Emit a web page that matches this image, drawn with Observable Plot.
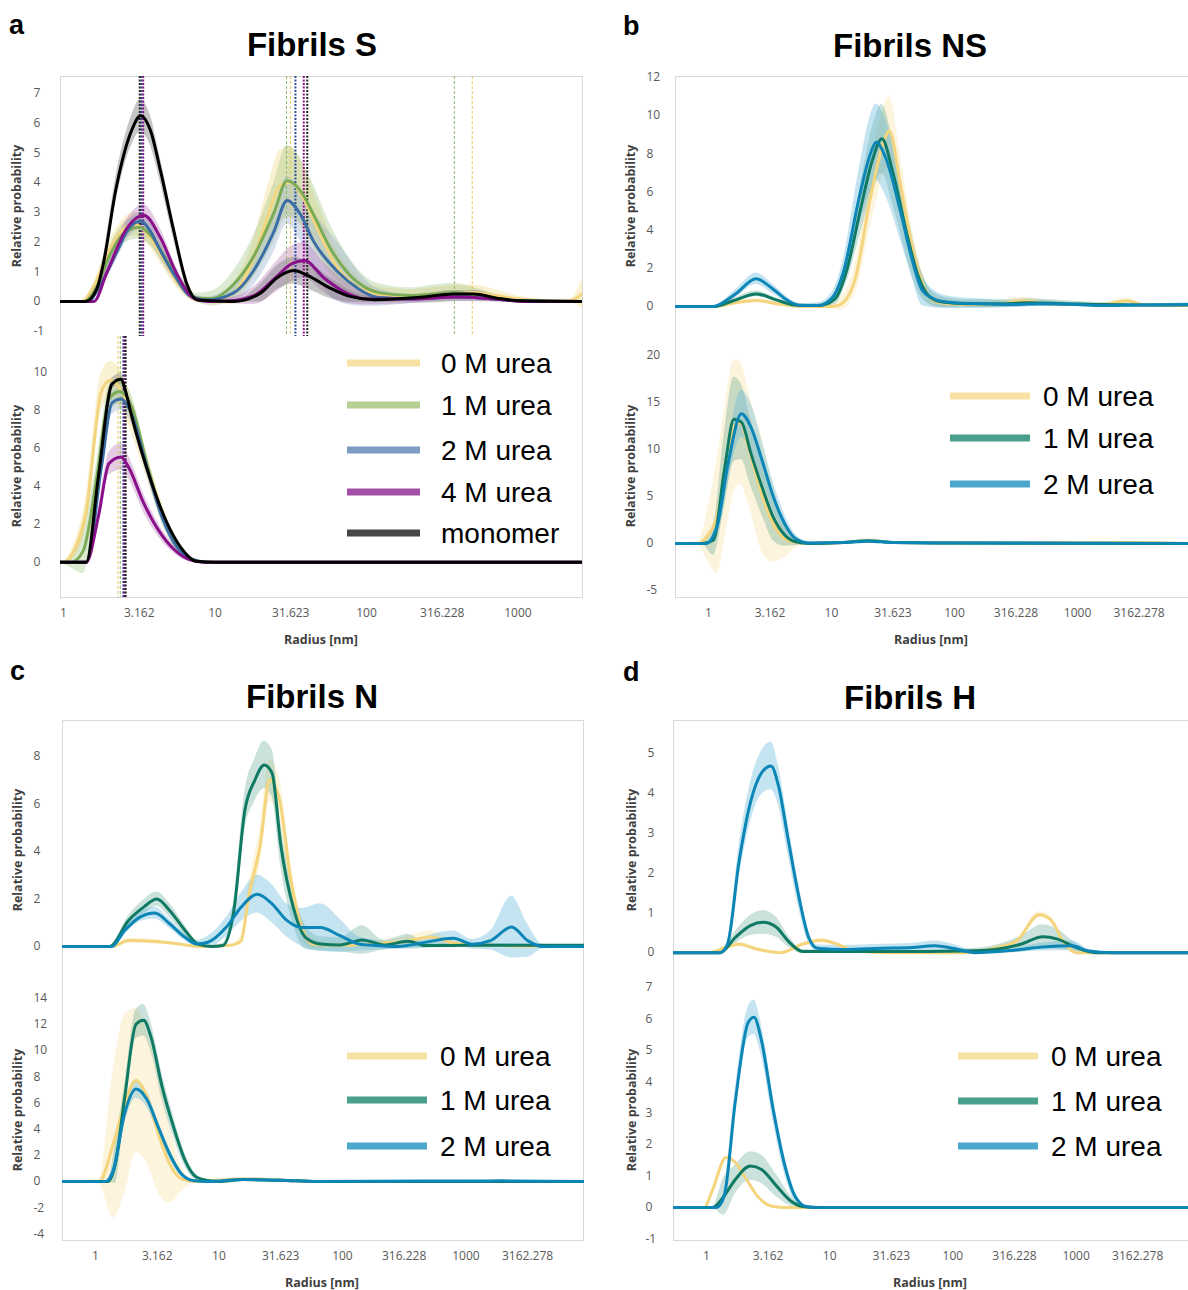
<!DOCTYPE html>
<html>
<head>
<meta charset="utf-8">
<script src="https://cdn.jsdelivr.net/npm/d3@7"></script>
<script src="https://cdn.jsdelivr.net/npm/@observablehq/plot@0.6"></script>
<style>
  body { margin: 0; background: #fff; }
  #root { position: relative; width: 1188px; height: 1290px; overflow: hidden; background: #fff; }
  #root svg { overflow: visible; }
  .frame { position: absolute; border: 1px solid #d9d9d9; box-sizing: border-box; }
</style>
</head>
<body>
<div id="root"></div>
<script>
// ---------------- DATA ----------------
// Each point: [log10(radius / nm), mean relative probability, spread (band half-width)]
const xTicksA = [1, 3.162, 10, 31.623, 100, 316.228, 1000];
const xTicksBCD = [1, 3.162, 10, 31.623, 100, 316.228, 1000, 3162.278];

// Panel a — Fibrils S, top
const aTop0M = [[-0.02,0,0],[0.12,0,0.02],[0.2,0.5,0.15],[0.3,1.7,0.3],[0.4,2.45,0.35],[0.47,2.6,0.4],[0.55,2.3,0.35],[0.65,1.5,0.3],[0.75,0.65,0.2],[0.85,0.12,0.1],[0.95,0.03,0.1],[1.1,0.2,0.3],[1.25,1.4,0.6],[1.35,2.9,1.0],[1.43,3.9,1.2],[1.5,4.0,1.2],[1.58,3.5,1.1],[1.68,2.4,0.9],[1.8,1.2,0.6],[1.95,0.45,0.35],[2.1,0.22,0.25],[2.3,0.2,0.2],[2.5,0.25,0.25],[2.7,0.3,0.25],[2.85,0.2,0.2],[3.0,0.08,0.1],[3.2,0.02,0.05],[3.34,0.02,0.05],[3.43,0.28,0.55]];
const aTop1M = [[-0.02,0,0],[0.14,0,0.05],[0.22,0.5,0.2],[0.3,1.5,0.3],[0.4,2.3,0.35],[0.5,2.5,0.4],[0.58,2.2,0.35],[0.68,1.4,0.3],[0.78,0.6,0.2],[0.88,0.12,0.15],[0.98,0.1,0.25],[1.12,0.56,0.45],[1.25,1.47,0.7],[1.39,3.0,1.0],[1.476,4.06,1.2],[1.564,3.72,1.1],[1.65,2.93,1.0],[1.76,1.8,0.8],[1.87,1.0,0.6],[2.0,0.45,0.35],[2.1,0.28,0.3],[2.3,0.2,0.25],[2.45,0.25,0.3],[2.58,0.3,0.3],[2.75,0.2,0.2],[2.9,0.08,0.1],[3.05,0,0.03],[3.43,0,0]];
const aTop2M = [[-0.02,0,0],[0.16,0,0.03],[0.244,0.56,0.15],[0.354,1.69,0.25],[0.43,2.45,0.3],[0.508,2.7,0.3],[0.58,2.3,0.3],[0.62,1.9,0.3],[0.73,0.9,0.2],[0.84,0.17,0.1],[0.95,0.05,0.1],[1.12,0.28,0.3],[1.25,1.0,0.5],[1.39,2.37,0.7],[1.476,3.4,0.8],[1.564,2.93,0.9],[1.65,2.03,1.0],[1.81,1.0,1.0],[1.94,0.45,0.6],[2.07,0.14,0.3],[2.3,0.08,0.15],[2.6,0.15,0.15],[2.8,0.1,0.1],[3.0,0.02,0.05],[3.43,0,0]];
const aTop4M = [[-0.02,0,0],[0.2,0,0.03],[0.288,1.0,0.2],[0.42,2.48,0.3],[0.53,2.9,0.35],[0.64,2.14,0.3],[0.75,0.9,0.2],[0.86,0.11,0.1],[0.95,0,0.05],[1.1,0.02,0.1],[1.26,0.2,0.3],[1.4,0.8,0.5],[1.5,1.25,0.6],[1.59,1.38,0.6],[1.72,0.79,0.5],[1.87,0.28,0.35],[2.0,0.08,0.2],[2.3,0.08,0.15],[2.6,0.15,0.15],[2.85,0.08,0.1],[3.05,0,0.03],[3.43,0,0]];
const aTopMono = [[-0.02,0,0],[0.145,0,0.02],[0.222,0.45,0.15],[0.266,1.35,0.25],[0.343,3.7,0.4],[0.453,5.8,0.5],[0.508,6.25,0.55],[0.574,5.75,0.5],[0.64,4.4,0.4],[0.728,2.37,0.3],[0.816,0.56,0.15],[0.882,0.05,0.05],[1.12,0,0.03],[1.3,0.28,0.3],[1.41,0.8,0.4],[1.52,1.04,0.45],[1.61,0.88,0.45],[1.76,0.45,0.35],[1.89,0.17,0.2],[2.05,0.06,0.1],[2.36,0.14,0.1],[2.58,0.25,0.12],[2.71,0.25,0.12],[2.86,0.11,0.08],[3.02,0.02,0.03],[3.43,0,0]];
// Panel a — bottom
const aBot0M = [[-0.02,0,0],[0.0,0,0.05],[0.055,0.4,0.3],[0.15,2.7,0.8],[0.25,9.0,1.0],[0.31,9.6,1.0],[0.4,8.75,1.0],[0.5,6.4,0.8],[0.6,3.8,0.6],[0.7,1.65,0.4],[0.8,0.4,0.2],[0.9,0.05,0.05],[1.0,0,0],[3.43,0,0]];
const aBot1M = [[-0.02,0,0],[0.05,0,0.3],[0.13,0.6,1.2],[0.22,4.5,0.8],[0.3,8.6,0.7],[0.37,9.0,0.7],[0.45,8.2,0.6],[0.55,5.2,0.5],[0.65,2.5,0.4],[0.75,0.8,0.2],[0.85,0.15,0.1],[0.95,0,0],[3.43,0,0]];
const aBot2M = [[-0.02,0,0],[0.15,0,0.1],[0.25,5.0,0.5],[0.32,8.4,0.6],[0.38,8.6,0.6],[0.45,7.8,0.5],[0.55,5.0,0.4],[0.65,2.4,0.3],[0.75,0.8,0.2],[0.85,0.15,0.1],[0.95,0,0],[3.43,0,0]];
const aBot4M = [[-0.02,0,0],[0.15,0,0.05],[0.23,2.4,0.4],[0.3,5.2,0.6],[0.38,5.55,0.7],[0.43,5.0,0.6],[0.53,3.1,0.5],[0.63,1.65,0.35],[0.73,0.67,0.2],[0.83,0.14,0.1],[0.93,0,0],[3.43,0,0]];
const aBotMono = [[-0.02,0,0],[0.15,0,0.02],[0.23,4.5,0.3],[0.32,9.4,0.3],[0.38,9.65,0.3],[0.41,9.0,0.3],[0.45,7.7,0.3],[0.577,4.3,0.25],[0.676,2.2,0.2],[0.776,0.76,0.1],[0.875,0.05,0.05],[1.0,0,0],[3.43,0,0]];
// Peak positions (log10 nm) marked by dashed lines in panel a
const aTopPeaks = [["1M",1.472],["0M",1.498],["2M",1.531],["4M",1.586],["mono",1.609],["1M",2.58],["0M",2.698],["2M",0.515],["4M",0.526],["mono",0.503]];
const aBotPeaks = [["0M",0.36],["1M",0.375],["2M",0.395],["4M",0.403],["mono",0.41]];

// Panel b — Fibrils NS
const bTop0M = [[-0.27,0,0],[0.05,0,0.02],[0.22,0.2,0.1],[0.39,0.31,0.1],[0.55,0.15,0.1],[0.75,0,0.05],[1.0,0,0.1],[1.07,0.1,0.3],[1.195,1.5,0.8],[1.317,5.7,1.5],[1.44,8.9,1.8],[1.47,9.2,1.8],[1.56,6.4,1.5],[1.65,3.3,1.0],[1.74,1.2,0.6],[1.83,0.3,0.3],[1.95,0.15,0.2],[2.2,0.1,0.15],[2.4,0.15,0.2],[2.55,0.3,0.2],[2.75,0.15,0.15],[3.0,0.1,0.1],[3.2,0.1,0.1],[3.4,0.3,0.15],[3.55,0.08,0.05],[3.9,0.05,0.02]];
const bTop1M = [[-0.27,0,0],[0.05,0,0.02],[0.2,0.3,0.1],[0.39,0.66,0.15],[0.55,0.35,0.1],[0.7,0.08,0.05],[0.9,0.05,0.1],[1.03,0.4,0.3],[1.12,1.8,0.6],[1.24,5.2,1.3],[1.33,7.6,1.7],[1.41,8.78,1.8],[1.5,7.0,1.7],[1.62,3.6,1.2],[1.71,1.5,0.8],[1.8,0.5,0.4],[1.9,0.23,0.3],[2.1,0.15,0.2],[2.4,0.15,0.2],[2.6,0.2,0.2],[2.9,0.15,0.15],[3.2,0.1,0.1],[3.6,0.08,0.05],[3.9,0.08,0.02]];
const bTop2M = [[-0.27,0,0],[0.037,0,0.02],[0.22,0.66,0.2],[0.387,1.45,0.3],[0.524,0.92,0.25],[0.646,0.31,0.15],[0.75,0.05,0.1],[0.89,0.05,0.15],[1.01,0.49,0.3],[1.1,1.88,0.7],[1.226,5.72,1.5],[1.317,8.0,2.0],[1.363,8.6,2.0],[1.44,7.8,2.0],[1.56,5.0,1.5],[1.65,2.6,1.0],[1.74,0.84,0.8],[1.87,0.31,0.4],[2.0,0.2,0.3],[2.2,0.15,0.25],[2.5,0.1,0.15],[2.7,0.15,0.15],[3.0,0.1,0.1],[3.2,0.05,0.1],[3.5,0.08,0.05],[3.9,0.1,0.1]];
const bBot0M = [[-0.27,0,0],[-0.08,0,0.3],[0.0,1.0,3.0],[0.07,2.8,6.0],[0.14,8.0,7.0],[0.21,12.5,7.0],[0.26,12.8,6.5],[0.33,10.0,6.0],[0.44,5.0,6.0],[0.53,2.0,4.0],[0.62,0.5,2.0],[0.72,0.1,0.5],[0.85,0,0.1],[1.1,0.1,0.1],[1.3,0.3,0.15],[1.5,0.1,0.1],[2.0,0.05,0.05],[3.4,0.1,0.1],[3.9,0,0]];
const bBot1M = [[-0.27,0,0],[-0.05,0,0.1],[0.04,0.35,1.6],[0.13,7.8,4.0],[0.207,13.2,4.5],[0.268,12.9,4.0],[0.345,9.6,3.5],[0.436,6.0,3.0],[0.527,2.8,2.5],[0.62,0.9,1.2],[0.71,0.18,0.4],[0.82,0,0.1],[1.1,0.1,0.1],[1.3,0.3,0.15],[1.5,0.1,0.1],[2.0,0.05,0.05],[3.9,0,0]];
const bBot2M = [[-0.27,0,0],[-0.02,0,0.05],[0.07,1.8,1.0],[0.16,8.5,2.0],[0.268,13.8,2.5],[0.345,12.4,2.5],[0.436,8.85,2.0],[0.527,5.0,1.5],[0.62,2.1,1.0],[0.71,0.5,0.4],[0.82,0.05,0.1],[1.1,0.1,0.1],[1.3,0.25,0.1],[1.5,0.1,0.1],[2.0,0.05,0.05],[2.55,0.05,0.05],[3.9,0,0]];

// Panel c — Fibrils N
const cTop0M = [[-0.27,0,0],[0.13,0,0.02],[0.27,0.25,0.1],[0.45,0.22,0.1],[0.69,0.1,0.05],[0.85,0,0.02],[1.09,0.05,0.05],[1.18,0.25,0.2],[1.24,2.1,0.5],[1.335,4.3,0.8],[1.41,7.0,0.9],[1.49,6.2,0.9],[1.58,2.9,0.7],[1.67,0.8,0.4],[1.76,0.11,0.2],[1.95,0.05,0.1],[2.2,0.1,0.1],[2.5,0.2,0.2],[2.71,0.4,0.25],[2.9,0.15,0.1],[3.2,0.05,0.05],[3.96,0,0]];
const cTop1M = [[-0.27,0,0],[0.115,0,0.02],[0.267,1.1,0.2],[0.39,1.66,0.3],[0.496,2.0,0.3],[0.6,1.52,0.3],[0.725,0.68,0.2],[0.83,0.1,0.1],[0.94,0,0.05],[1.03,0.04,0.1],[1.12,1.5,0.4],[1.21,5.75,0.8],[1.29,7.0,0.9],[1.366,7.65,1.0],[1.43,7.3,1.0],[1.5,4.3,0.9],[1.61,1.5,0.7],[1.7,0.39,0.5],[1.82,0.11,0.3],[1.98,0.07,0.3],[2.16,0.28,0.6],[2.34,0.07,0.2],[2.53,0.22,0.3],[2.68,0.04,0.1],[3.0,0.05,0.1],[3.5,0.05,0.05],[3.96,0.05,0]];
const cTop2M = [[-0.27,0,0],[0.13,0,0.02],[0.237,0.68,0.15],[0.36,1.24,0.2],[0.48,1.41,0.25],[0.6,0.96,0.2],[0.725,0.39,0.15],[0.82,0.11,0.15],[0.91,0.18,0.25],[1.06,0.82,0.4],[1.18,1.66,0.6],[1.31,2.2,0.8],[1.43,1.8,0.8],[1.55,1.1,0.7],[1.67,0.8,0.8],[1.82,0.8,1.0],[1.98,0.46,0.7],[2.13,0.11,0.3],[2.28,0.04,0.2],[2.45,0,0.1],[2.59,0.1,0.2],[2.9,0.35,0.3],[3.05,0.1,0.2],[3.2,0.25,0.4],[3.37,0.82,1.3],[3.5,0.25,0.7],[3.62,0,0.1],[3.96,0,0]];
const cBot0M = [[-0.27,0,0],[0.03,0,0.2],[0.144,2.9,5.7],[0.236,5.9,6.8],[0.328,7.7,5.5],[0.42,6.4,5.0],[0.51,3.6,4.5],[0.6,1.35,3.0],[0.696,0.2,1.0],[0.8,0,0.1],[1.2,0.2,0.1],[1.5,0.1,0.1],[1.8,0,0],[3.96,0,0]];
const cBot1M = [[-0.27,0,0],[0.1,0,0.05],[0.16,1.35,1.5],[0.236,6.4,1.0],[0.328,12.0,1.1],[0.39,12.3,1.2],[0.45,11.0,1.1],[0.54,7.2,1.0],[0.634,4.1,0.8],[0.726,1.6,0.5],[0.818,0.33,0.2],[0.91,0.08,0.05],[1.0,0,0],[1.2,0.15,0.1],[1.5,0.1,0.1],[1.8,0,0],[3.96,0,0]];
const cBot2M = [[-0.27,0,0],[0.08,0,0.05],[0.144,0.84,0.5],[0.236,5.2,0.8],[0.328,7.06,0.7],[0.42,6.2,0.6],[0.51,4.1,0.5],[0.6,2.1,0.4],[0.696,0.58,0.2],[0.79,0.08,0.05],[0.9,0,0],[1.2,0.15,0.1],[1.5,0.1,0.1],[1.8,0,0],[3.3,0.05,0.05],[3.96,0,0]];

// Panel d — Fibrils H
const dTop0M = [[-0.27,0,0],[0.02,0,0],[0.14,0.11,0.05],[0.265,0.21,0.05],[0.42,0.08,0.05],[0.6,0,0.02],[0.78,0.21,0.05],[0.935,0.31,0.05],[1.06,0.21,0.05],[1.21,0.04,0.02],[1.5,0,0],[2.1,0,0],[2.34,0.11,0.05],[2.52,0.3,0.05],[2.7,0.95,0.08],[2.79,0.84,0.08],[2.91,0.21,0.05],[3.0,0,0],[3.92,0,0]];
const dTop1M = [[-0.27,0,0],[0.11,0,0.02],[0.234,0.38,0.15],[0.356,0.68,0.25],[0.46,0.76,0.3],[0.57,0.63,0.25],[0.66,0.3,0.15],[0.78,0.03,0.05],[1.2,0.03,0.03],[1.8,0.03,0.03],[2.1,0.04,0.05],[2.34,0.08,0.1],[2.55,0.21,0.2],[2.73,0.4,0.3],[2.85,0.34,0.25],[3.0,0.13,0.1],[3.16,0,0.02],[3.92,0,0]];
const dTop2M = [[-0.27,0,0],[0.11,0,0.02],[0.17,0.2,0.1],[0.265,2.3,0.4],[0.356,3.76,0.5],[0.448,4.52,0.55],[0.524,4.69,0.6],[0.585,4.18,0.5],[0.66,2.9,0.4],[0.75,1.4,0.3],[0.83,0.38,0.15],[0.9,0.11,0.08],[1.12,0.08,0.1],[1.42,0.11,0.1],[1.67,0.13,0.1],[1.85,0.17,0.12],[2.0,0.11,0.1],[2.18,0,0.05],[2.49,0.06,0.05],[2.73,0.14,0.1],[2.97,0.17,0.12],[3.1,0.04,0.05],[3.3,0,0],[3.92,0,0]];
const dBot0M = [[-0.27,0,0],[-0.02,0,0],[0.05,0.57,0.05],[0.158,1.59,0.05],[0.234,1.43,0.05],[0.325,0.89,0.05],[0.416,0.35,0.03],[0.54,0.03,0.02],[0.65,0,0],[3.92,0,0]];
const dBot1M = [[-0.27,0,0],[0.05,0,0.02],[0.14,0.35,0.6],[0.234,0.89,0.45],[0.356,1.32,0.45],[0.447,1.21,0.45],[0.57,0.68,0.35],[0.69,0.19,0.15],[0.78,0.03,0.03],[0.9,0,0],[3.92,0,0]];
const dBot2M = [[-0.27,0,0],[0.08,0,0.02],[0.143,0.35,0.2],[0.234,3.37,0.4],[0.34,5.9,0.5],[0.386,6.05,0.55],[0.447,5.3,0.5],[0.54,3.15,0.4],[0.63,1.43,0.3],[0.72,0.35,0.15],[0.81,0.03,0.03],[0.9,0,0],[3.92,0,0]];

// ---------------- STYLE ----------------
const lineA = {"0M":"#f3d47f","1M":"#7bab55","2M":"#3a6ea5","4M":"#8a0f8a","mono":"#000000"};
const bandA = {"0M":["#f3dc8f",0.4],"1M":["#9cc27a",0.35],"2M":["#9ab3d3",0.4],"4M":["#b56cb5",0.35],"mono":["#808080",0.45]};
const lineB = {"0M":"#f4d47c","1M":"#0f7a63","2M":"#0c86b6"};
const bandB = {"0M":["#f6e2a2",0.38],"1M":["#4f9f89",0.3],"2M":["#5ab3d6",0.35]};
const legA = [["0 M urea","#f7e2a4"],["1 M urea","#b5d092"],["2 M urea","#7f9dc3"],["4 M urea","#a24fa6"],["monomer","#474747"]];
const legB = [["0 M urea","#f7e2a4"],["1 M urea","#4a9e8c"],["2 M urea","#4ba7cb"]];

const root = document.getElementById("root");

function frame(l, t, w, h) {
  const d = document.createElement("div");
  d.className = "frame";
  Object.assign(d.style, {left: l + "px", top: t + "px", width: w + "px", height: h + "px"});
  root.appendChild(d);
}

// yLabelX: x (page pixels) where the y tick labels start
function sub(cfg) {
  const {left, top, width, height, ml, mr, mb, xDomain, yDomain, yTicks, yLabelX, xTicks, series, peaks, peakColors} = cfg;
  const X = d => Math.pow(10, d[0]);
  const marks = [];
  for (const s of series) {
    marks.push(Plot.areaY(s.pts, {x: X, y1: d => d[1] - d[2], y2: d => d[1] + d[2], fill: s.band[0], fillOpacity: s.band[1], curve: "monotone-x", clip: true}));
  }
  if (peaks) {
    for (const [k, L] of peaks) {
      const heavy = (k === "mono" || k === "4M" || k === "2M");
      marks.push(Plot.ruleX([L], {x: d => Math.pow(10, d), stroke: peakColors[k], strokeWidth: heavy ? 2 : 1, strokeDasharray: heavy ? "2,1.5" : "3,2"}));
    }
  }
  for (const s of series) {
    marks.push(Plot.line(s.pts, {x: X, y: d => d[1], stroke: s.color, strokeWidth: 3, curve: "monotone-x", clip: true, strokeLinejoin: "round"}));
  }
  marks.push(Plot.text(yTicks, {y: d => d, text: d => String(d), frameAnchor: "left", textAnchor: "start", dx: (yLabelX - left) - ml, fill: "#595959", fontSize: 12}));
  if (xTicks) marks.push(Plot.text(xTicks, {x: d => d, text: d => String(d), frameAnchor: "bottom", dy: 19, fill: "#595959", fontSize: 12}));
  const svg = Plot.plot({
    width, height, marginLeft: ml, marginRight: mr, marginTop: 0, marginBottom: mb,
    x: {type: "log", domain: xDomain, axis: null},
    y: {domain: yDomain, axis: null},
    style: {fontFamily: "'Open Sans', sans-serif", background: "transparent", overflow: "visible"},
    marks
  });
  svg.style.position = "absolute";
  svg.style.left = left + "px";
  svg.style.top = top + "px";
  root.appendChild(svg);
}

const S = (pts, key, lc, bc) => ({pts, color: lc[key], band: bc[key]});

// frames
frame(60, 76, 523, 522);
frame(675, 76, 514, 522);
frame(62, 720, 522, 521);
frame(673, 720, 516, 521);

const xDomA = [0.955, 2667], xDomB = [0.54, 7980], xDomC = [0.54, 9140], xDomD = [0.54, 8170];
const pcA = {"0M":"#e8c860","1M":"#8fb86a","2M":"#2f4f9a","4M":"#8a0f8a","mono":"#222"};

// Panel a
sub({left: 0, top: 76, width: 590, height: 260, ml: 60, mr: 8, mb: 0, xDomain: xDomA, yDomain: [-1.18, 7.57],
  yTicks: [-1,0,1,2,3,4,5,6,7], yLabelX: 33, peaks: aTopPeaks, peakColors: pcA,
  series: [S(aTop0M,"0M",lineA,bandA), S(aTop1M,"1M",lineA,bandA), S(aTop2M,"2M",lineA,bandA), S(aTop4M,"4M",lineA,bandA), S(aTopMono,"mono",lineA,bandA)]});
sub({left: 0, top: 336, width: 590, height: 321, ml: 60, mr: 8, mb: 60, xDomain: xDomA, yDomain: [-1.86, 11.9],
  yTicks: [0,2,4,6,8,10], yLabelX: 33, xTicks: xTicksA, peaks: aBotPeaks, peakColors: pcA,
  series: [S(aBot0M,"0M",lineA,bandA), S(aBot1M,"1M",lineA,bandA), S(aBot2M,"2M",lineA,bandA), S(aBot4M,"4M",lineA,bandA), S(aBotMono,"mono",lineA,bandA)]});

// Panel b
sub({left: 600, top: 76, width: 588, height: 260, ml: 75, mr: 0, mb: 0, xDomain: xDomB, yDomain: [-1.57, 12.04],
  yTicks: [0,2,4,6,8,10,12], yLabelX: 646,
  series: [S(bTop0M,"0M",lineB,bandB), S(bTop1M,"1M",lineB,bandB), S(bTop2M,"2M",lineB,bandB)]});
sub({left: 600, top: 336, width: 588, height: 321, ml: 75, mr: 0, mb: 60, xDomain: xDomB, yDomain: [-5.74, 22.0],
  yTicks: [-5,0,5,10,15,20], yLabelX: 646, xTicks: xTicksBCD,
  series: [S(bBot0M,"0M",lineB,bandB), S(bBot1M,"1M",lineB,bandB), S(bBot2M,"2M",lineB,bandB)]});

// Panel c
sub({left: 0, top: 720, width: 590, height: 260, ml: 62, mr: 6, mb: 0, xDomain: xDomC, yDomain: [-1.43, 9.52],
  yTicks: [0,2,4,6,8], yLabelX: 33,
  series: [S(cTop0M,"0M",lineB,bandB), S(cTop1M,"1M",lineB,bandB), S(cTop2M,"2M",lineB,bandB)]});
sub({left: 0, top: 980, width: 590, height: 310, ml: 62, mr: 6, mb: 50, xDomain: xDomC, yDomain: [-4.5, 15.34],
  yTicks: [-4,-2,0,2,4,6,8,10,12,14], yLabelX: 33, xTicks: xTicksBCD,
  series: [S(cBot0M,"0M",lineB,bandB), S(cBot1M,"1M",lineB,bandB), S(cBot2M,"2M",lineB,bandB)]});

// Panel d
sub({left: 600, top: 720, width: 588, height: 260, ml: 73, mr: 0, mb: 0, xDomain: xDomD, yDomain: [-0.70, 5.83],
  yTicks: [0,1,2,3,4,5], yLabelX: 647,
  series: [S(dTop0M,"0M",lineB,bandB), S(dTop1M,"1M",lineB,bandB), S(dTop2M,"2M",lineB,bandB)]});
sub({left: 600, top: 980, width: 588, height: 310, ml: 73, mr: 0, mb: 50, xDomain: xDomD, yDomain: [-1.05, 7.22],
  yTicks: [-1,0,1,2,3,4,5,6,7], yLabelX: 645, xTicks: xTicksBCD,
  series: [S(dBot0M,"0M",lineB,bandB), S(dBot1M,"1M",lineB,bandB), S(dBot2M,"2M",lineB,bandB)]});

// ---------------- TEXT OVERLAY ----------------
const ov = d3.select(root).append("svg")
  .attr("width", 1188).attr("height", 1290)
  .style("position", "absolute").style("left", "0px").style("top", "0px").style("pointer-events", "none");

const titles = [["Fibrils S", 312, 56], ["Fibrils NS", 910, 57], ["Fibrils N", 312, 708], ["Fibrils H", 910, 709]];
for (const [t, x, y] of titles) ov.append("text").attr("x", x).attr("y", y).attr("text-anchor", "middle")
  .attr("font-family", "'Liberation Sans', Arial, sans-serif").attr("font-weight", "bold").attr("font-size", 33).attr("fill", "#000").text(t);

const letters = [["a", 9, 34], ["b", 623, 35], ["c", 10, 680], ["d", 623, 681]];
for (const [t, x, y] of letters) ov.append("text").attr("x", x).attr("y", y)
  .attr("font-family", "'Liberation Sans', Arial, sans-serif").attr("font-weight", "bold").attr("font-size", 27).attr("fill", "#000").text(t);

const ylabs = [[17, 206], [17, 466], [631, 206], [631, 466], [18, 850], [18, 1110], [632, 850], [632, 1110]];
for (const [x, y] of ylabs) ov.append("text").attr("transform", `translate(${x},${y}) rotate(-90)`)
  .attr("text-anchor", "middle").attr("dy", "0.35em").attr("font-family", "'Open Sans', sans-serif").attr("font-weight", "bold")
  .attr("font-size", 12.5).attr("fill", "#404040").text("Relative probability");

const xlabs = [[321, 640], [931, 640], [322, 1283], [930, 1283]];
for (const [x, y] of xlabs) ov.append("text").attr("x", x).attr("y", y).attr("text-anchor", "middle").attr("dy", "0.35em")
  .attr("font-family", "'Open Sans', sans-serif").attr("font-weight", "bold").attr("font-size", 12.5).attr("fill", "#404040").text("Radius [nm]");

function legend(items, x1, x2, tx, ys) {
  items.forEach(([label, color], i) => {
    ov.append("line").attr("x1", x1).attr("x2", x2).attr("y1", ys[i]).attr("y2", ys[i]).attr("stroke", color).attr("stroke-width", 7);
    ov.append("text").attr("x", tx).attr("y", ys[i]).attr("dy", "0.36em")
      .attr("font-family", "'Liberation Sans', Arial, sans-serif").attr("font-size", 28).attr("fill", "#000").text(label);
  });
}
legend(legA, 347, 420, 441, [363, 405, 450, 492, 533]);
legend(legB, 950, 1030, 1043, [396, 438, 484]);
legend(legB, 347, 427, 440, [1056, 1100, 1146]);
legend(legB, 958, 1038, 1051, [1056, 1101, 1146]);
</script>
</body>
</html>
